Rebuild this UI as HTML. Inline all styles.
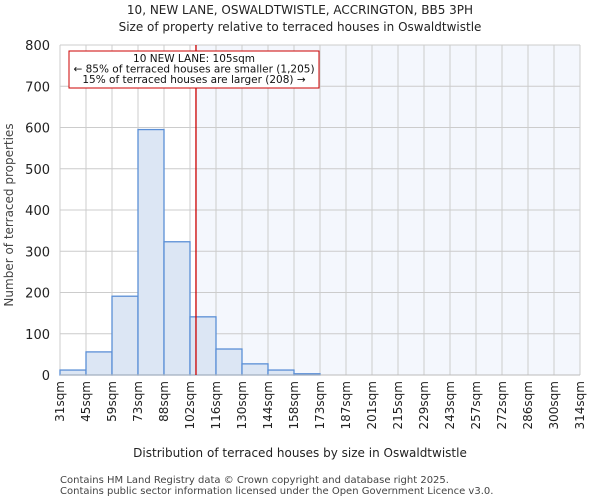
<!DOCTYPE html>
<html><head><meta charset="utf-8"><style>
body{margin:0;background:#fff;font-family:"DejaVu Sans","Liberation Sans",sans-serif}
</style></head><body>
<svg id="chart" width="600" height="500" xmlns="http://www.w3.org/2000/svg" font-family="DejaVu Sans, Liberation Sans, sans-serif">
<text x="300" y="14" text-anchor="middle" font-size="12" fill="#222">10, NEW LANE, OSWALDTWISTLE, ACCRINGTON, BB5 3PH</text>
<text x="300" y="31" text-anchor="middle" font-size="12" fill="#222">Size of property relative to terraced houses in Oswaldtwistle</text>
<g id="plot"></g>
<text x="300" y="457" text-anchor="middle" font-size="12" fill="#222">Distribution of terraced houses by size in Oswaldtwistle</text>
<text transform="translate(13,215) rotate(-90)" text-anchor="middle" font-size="12" fill="#444">Number of terraced properties</text>
<text x="60" y="483" font-size="10" fill="#444">Contains HM Land Registry data © Crown copyright and database right 2025.</text>
<text x="60" y="494" font-size="10" fill="#444">Contains public sector information licensed under the Open Government Licence v3.0.</text>
</svg>
<script>
const edgeLabels=["31sqm","45sqm","59sqm","73sqm","88sqm","102sqm","116sqm","130sqm","144sqm","158sqm","173sqm","187sqm","201sqm","215sqm","229sqm","243sqm","257sqm","272sqm","286sqm","300sqm","314sqm"];
const counts=[12,56,191,595,323,141,63,27,12,3,0,0,0,0,0,0,0,0,0,0];
const yTicks=[0,100,200,300,400,500,600,700,800];
const markerBin=5.23;
const annotationLines=["10 NEW LANE: 105sqm","← 85% of terraced houses are smaller (1,205)","15% of terraced houses are larger (208) →"];
const NS="http://www.w3.org/2000/svg";
const L=60,R=580,T=45,B=375,yMax=800;
const bw=(R-L)/counts.length;
const xs=i=>L+i*bw;
const ys=v=>B-(v/yMax)*(B-T);
const g=document.getElementById('plot');
function mk(t,a){const e=document.createElementNS(NS,t);for(const k in a)e.setAttribute(k,a[k]);g.appendChild(e);return e;}
let e;
e=mk('rect',{x:L,y:T,width:R-L,height:B-T,fill:'#fff'});


e=mk('rect',{x:xs(markerBin),y:T,width:R-xs(markerBin),height:B-T,fill:'#f4f7fd'});


yTicks.forEach(v=>{
 e=mk('line',{x1:L,x2:R,y1:ys(v),y2:ys(v),stroke:'#ccc','stroke-width':1});
 
 
 e=mk('text',{x:L-10,y:ys(v)+5,'text-anchor':'end','font-size':13,fill:'#222'});
 e.textContent=v;
 
 
});
edgeLabels.forEach((s,i)=>{
 e=mk('line',{x1:xs(i),x2:xs(i),y1:T,y2:B,stroke:'#ccc','stroke-width':1});
 
 
 e=mk('text',{transform:`translate(${xs(i)+4},${B+6}) rotate(-90)`,'text-anchor':'end','font-size':12,fill:'#222'});
 e.textContent=s;
 
 
});
counts.forEach((c,i)=>{
 if(c<=0)return;
 e=mk('rect',{x:xs(i),y:ys(c),width:bw,height:B-ys(c),fill:'#dce6f4',stroke:'#5b8fd6','stroke-width':1.3});
 
 
});
e=mk('line',{x1:L,x2:R,y1:B,y2:B,stroke:'#bbb'});


e=mk('line',{x1:xs(markerBin),x2:xs(markerBin),y1:T,y2:B,stroke:'#cc0000','stroke-width':1.3});


e=mk('rect',{x:69,y:51,width:250,height:37,fill:'#fff',stroke:'#cc0000','stroke-width':1});


annotationLines.forEach((s,i)=>{
 e=mk('text',{x:194,y:62+i*10.5,'text-anchor':'middle','font-size':10.5,fill:'#111'});
 e.textContent=s;
 
 
});
</script>
</body></html>
